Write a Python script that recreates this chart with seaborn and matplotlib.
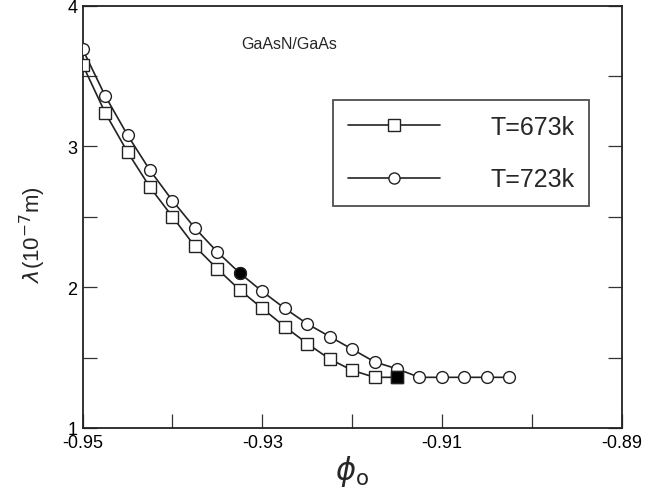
import numpy as np
import pandas as pd
import seaborn as sns
import matplotlib.pyplot as plt
from matplotlib.lines import Line2D
from matplotlib.ticker import MultipleLocator

sns.set_style('ticks')
plt.rcParams['font.family'] = ['Liberation Sans', 'DejaVu Sans']
plt.rcParams['mathtext.fontset'] = 'dejavusans'

# data
phi_723 = [-0.95, -0.9475, -0.945, -0.9425, -0.94, -0.9375, -0.935, -0.9325, -0.93, -0.9275,
           -0.925, -0.9225, -0.92, -0.9175, -0.915, -0.9125, -0.91, -0.9075, -0.905, -0.9025]
lam_723 = [3.69, 3.36, 3.08, 2.83, 2.615, 2.42, 2.25, 2.10, 1.97, 1.85,
           1.74, 1.65, 1.56, 1.47, 1.42, 1.36, 1.36, 1.36, 1.36, 1.36]
phi_673 = [-0.95, -0.9475, -0.945, -0.9425, -0.94, -0.9375, -0.935, -0.9325, -0.93, -0.9275,
           -0.925, -0.9225, -0.92, -0.9175, -0.915]
lam_673 = [3.58, 3.24, 2.96, 2.71, 2.50, 2.29, 2.13, 1.98, 1.85, 1.72,
           1.60, 1.49, 1.41, 1.36, 1.36]
filled_723 = 7   # index of the black circle
filled_673 = 14  # index of the black square

df723 = pd.DataFrame({'phi': phi_723, 'lam': lam_723})
df673 = pd.DataFrame({'phi': phi_673, 'lam': lam_673})

fig = plt.figure(figsize=(6.45, 4.89), dpi=100)
ax = fig.add_axes([0.1282, 0.1227, 0.8354, 0.8636])

edge = '#222222'
sns.lineplot(data=df723, x='phi', y='lam', ax=ax, sort=False, color='#222222', lw=1.2,
             marker='o', markersize=8.5, markerfacecolor='white', markeredgecolor=edge,
             markeredgewidth=1.0, zorder=3)
sns.lineplot(data=df673, x='phi', y='lam', ax=ax, sort=False, color='#222222', lw=1.2,
             marker='s', markersize=8, markerfacecolor='white', markeredgecolor=edge,
             markeredgewidth=1.0, zorder=4)
sns.scatterplot(data=df723.iloc[[filled_723]], x='phi', y='lam', ax=ax, marker='o',
                s=72, color='black', edgecolor=edge, linewidth=1.0, zorder=5)
sns.scatterplot(data=df673.iloc[[filled_673]], x='phi', y='lam', ax=ax, marker='s',
                s=64, color='black', edgecolor=edge, linewidth=1.0, zorder=5)

ax.set_xlim(-0.95, -0.89)
ax.set_ylim(1, 4)
ax.set_xticks([-0.95, -0.93, -0.91, -0.89])
ax.set_xticklabels(['-0.95', '-0.93', '-0.91', '-0.89'])
ax.xaxis.set_minor_locator(MultipleLocator(0.01))
ax.set_yticks([1, 2, 3, 4])
ax.set_yticklabels(['1', '2', '3', '4'])
ax.yaxis.set_minor_locator(MultipleLocator(0.5))
ax.tick_params(which='both', direction='in', length=10, width=0.9, color='#333333',
               top=False, right=True, labelsize=13, pad=4, labelcolor='black')
for s in ax.spines.values():
    s.set_linewidth(1.3)
    s.set_color('#222222')

ax.set_xlabel(r'$\phi_{\rm o}$', fontsize=22, labelpad=2)
ax.set_ylabel(r'$\lambda$(10$^{-7}$m)', fontsize=16)
ax.yaxis.set_label_coords(-0.065, 0.46)

ax.text(-0.927, 3.73, 'GaAsN/GaAs', fontsize=11.5, ha='center', va='center')

handles = [
    Line2D([], [], color='#222222', lw=1.2, marker='s', markersize=8,
           markerfacecolor='white', markeredgecolor=edge, markeredgewidth=1.0),
    Line2D([], [], color='#222222', lw=1.2, marker='o', markersize=8,
           markerfacecolor='white', markeredgecolor=edge, markeredgewidth=1.0),
]
leg = ax.legend(handles, ['T=673k', 'T=723k'], loc='upper left',
                bbox_to_anchor=(0.465, 0.777), borderaxespad=0, fontsize=18,
                handlelength=3.68, handletextpad=2.0, labelspacing=1.14,
                borderpad=0.6, frameon=True, fancybox=False, edgecolor='#222222')
leg.get_frame().set_linewidth(1.3)

fig.savefig('out.png', dpi=100)
